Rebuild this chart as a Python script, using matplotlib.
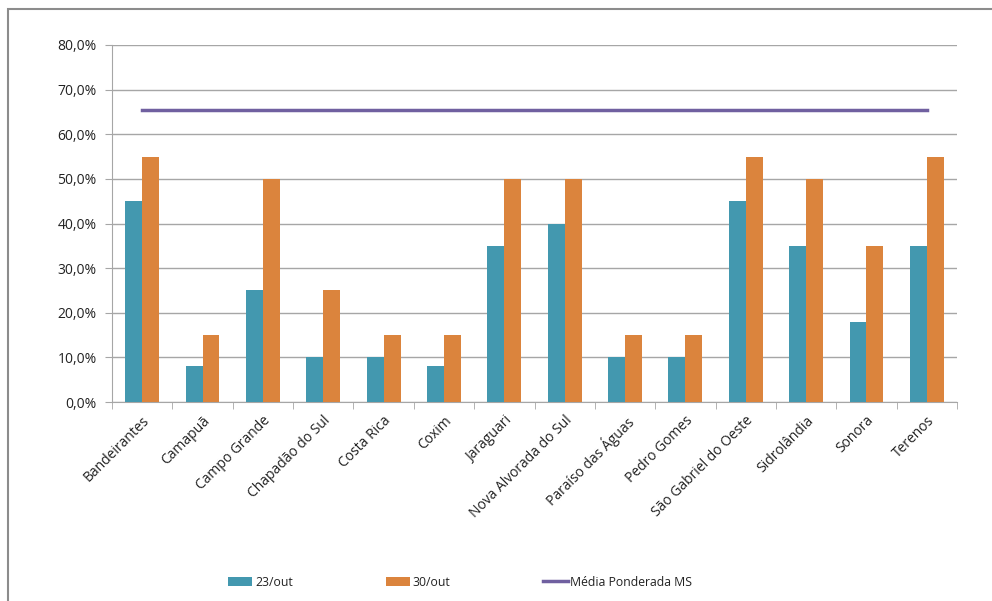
import numpy as np
import matplotlib
matplotlib.use("Agg")
from matplotlib import pyplot as plt
from matplotlib.patches import Rectangle
from matplotlib.ticker import FuncFormatter

municipios = ['Bandeirantes', 'Camapuã', 'Campo Grande', 'Chapadão do Sul',
              'Costa Rica', 'Coxim', 'Jaraguari', 'Nova Alvorada do Sul',
              'Paraíso das Águas', 'Pedro Gomes', 'São Gabriel do Oeste',
              'Sidrolândia', 'Sonora', 'Terenos']
out23 = [45, 8, 25, 10, 10, 8, 35, 40, 10, 10, 45, 35, 18, 35]
out30 = [55, 15, 50, 25, 15, 15, 50, 50, 15, 15, 55, 50, 35, 55]
media_ms = 65.5

azul = '#4398AF'
laranja = '#DB843D'
roxo = '#7060A0'
cinza = '#A6A6A6'

plt.rcParams['font.family'] = ['Open Sans', 'DejaVu Sans']

fig = plt.figure(figsize=(9.92, 6.01), dpi=100)
ax = fig.add_axes([112/992, 199/601, 845/992, 357/601])

x = np.arange(len(municipios))
w = 0.28
ax.bar(x - w/2, out23, w, color=azul, label='23/out', zorder=3)
ax.bar(x + w/2, out30, w, color=laranja, label='30/out', zorder=3)
ax.plot([x[0], x[-1]], [media_ms, media_ms], color=roxo, lw=2.5,
        label='Média Ponderada MS', zorder=4)

ax.set_xlim(-0.5, len(municipios) - 0.5)
ax.set_ylim(0, 80)
ax.set_yticks(range(0, 81, 10))
ax.yaxis.set_major_formatter(FuncFormatter(lambda v, p: f'{v:.1f}%'.replace('.', ',')))
ax.grid(axis='y', color=cinza, lw=1, zorder=0)

# category labels between boundary ticks
ax.set_xticks(x)
ax.set_xticklabels(municipios, rotation=45, ha='right', rotation_mode='anchor',
                   fontsize=10, color='#222222')
ax.set_xticks(np.arange(len(municipios) + 1) - 0.5, minor=True)
ax.tick_params(axis='x', which='major', length=0, pad=8)
ax.tick_params(axis='x', which='minor', length=5, color=cinza, direction='out')
ax.tick_params(axis='y', length=5, color=cinza, labelsize=10, labelcolor='#222222', pad=6)

for s in ['top', 'right']:
    ax.spines[s].set_visible(False)
for s in ['left', 'bottom']:
    ax.spines[s].set_color(cinza)

# chart frame
fig.patches.append(Rectangle((8/992, -0.05), 1.2, 1 - 9/601 + 0.05,
                             transform=fig.transFigure, fill=False,
                             edgecolor='#8C8C8C', lw=1.5))

handles, labels = ax.get_legend_handles_labels()
order = [1, 2, 0]
fig.legend([handles[i] for i in order], [labels[i] for i in order],
           loc='center left', bbox_to_anchor=(228/992, 19/601), ncol=3, frameon=False,
           fontsize=8.8, handlelength=2.0, handleheight=0.7, handletextpad=0.2,
           columnspacing=7.6, borderpad=0, borderaxespad=0, labelcolor='#222222')

fig.savefig('out.png', dpi=100)
